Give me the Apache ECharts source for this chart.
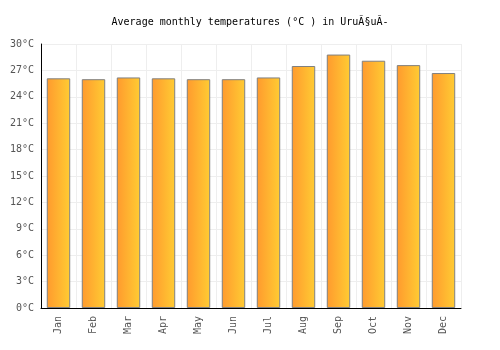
<!DOCTYPE html>
<html><head><meta charset="utf-8">
<script src="https://cdn.jsdelivr.net/npm/echarts@6/dist/echarts.min.js"></script>
<style>html,body{margin:0;padding:0;background:#fff}#c{width:500px;height:350px}</style>
</head><body><div id="c"></div>
<script>
const months = ['Jan','Feb','Mar','Apr','May','Jun','Jul','Aug','Sep','Oct','Nov','Dec'];
const temps = [26.1, 26.0, 26.2, 26.1, 26.0, 26.0, 26.2, 27.5, 28.8, 28.1, 27.6, 26.7];
const yTicks = [0, 3, 6, 9, 12, 15, 18, 21, 24, 27, 30];
const titleText = 'Average monthly temperatures (°C ) in UruÃ§uÃ-';
const font = '"DejaVu Sans Mono", monospace';
const chart = echarts.init(document.getElementById('c'), null, {renderer:'canvas'});
chart.setOption({
  animation:false,
  title:{text:titleText, left:'center', top:12, textStyle:{fontFamily:font, fontSize:10, fontWeight:'normal', color:'#000'}},
  grid:{left:41, right:39, top:44, bottom:42},
  xAxis:{type:'category', data:months,
    axisLine:{lineStyle:{color:'#000'}}, axisTick:{show:false},
    axisLabel:{rotate:90, color:'#555', fontFamily:font, fontSize:10, margin:8},
    splitLine:{show:true, lineStyle:{color:'#eee'}}},
  yAxis:{type:'value', min:0, max:30, interval:3,
    axisLine:{show:true, lineStyle:{color:'#000'}}, axisTick:{show:false},
    axisLabel:{color:'#555', fontFamily:font, fontSize:10, margin:7, formatter:v=>v+'°C'},
    splitLine:{lineStyle:{color:'#eee'}}},
  series:[{type:'bar', data:temps, barWidth:'67%',
    itemStyle:{borderColor:'#808080', borderWidth:1,
      color:new echarts.graphic.LinearGradient(0,0,1,0,[{offset:0,color:'#FF9A2E'},{offset:1,color:'#FFCC33'}])}}]
});
</script></body></html>
